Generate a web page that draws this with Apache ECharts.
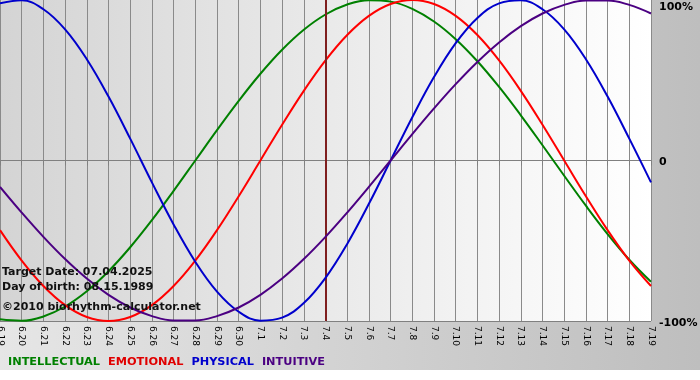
<!DOCTYPE html>
<html>
<head>
<meta charset="utf-8">
<script src="https://cdn.jsdelivr.net/npm/echarts@6/dist/echarts.min.js"></script>
<style>
html,body{margin:0;padding:0;background:#fff;}
#c{width:700px;height:380px;background:linear-gradient(to right,#e6e6e6,#bebebe) 0 0/700px 370px no-repeat,#fff;}
</style>
</head>
<body>
<div id="c"></div>
<script>
var days = ['6.19','6.20','6.21','6.22','6.23','6.24','6.25','6.26','6.27','6.28','6.29','6.30',
  '7.1','7.2','7.3','7.4','7.5','7.6','7.7','7.8','7.9','7.10','7.11','7.12','7.13','7.14','7.15','7.16','7.17','7.18','7.19'];
var intellectual = [-0.9898,-0.9989,-0.9718,-0.9096,-0.8146,-0.6901,-0.5406,-0.3717,-0.1893,0,0.1893,0.3717,0.5406,0.6901,0.8146,0.9096,0.9718,0.9989,0.9898,0.9450,0.8660,0.7557,0.6182,0.4582,0.2817,0.0951,-0.0951,-0.2817,-0.4582,-0.6182,-0.7557];
var emotional = [-0.4339,-0.6235,-0.7818,-0.9010,-0.9749,-1.0,-0.9749,-0.9010,-0.7818,-0.6235,-0.4339,-0.2225,0,0.2225,0.4339,0.6235,0.7818,0.9010,0.9749,1.0,0.9749,0.9010,0.7818,0.6235,0.4339,0.2225,0,-0.2225,-0.4339,-0.6235,-0.7818];
var physical = [0.9791,0.9977,0.9423,0.8170,0.6311,0.3984,0.1362,-0.1362,-0.3984,-0.6311,-0.8170,-0.9423,-0.9977,-0.9791,-0.8879,-0.7308,-0.5196,-0.2698,0,0.2698,0.5196,0.7308,0.8879,0.9791,0.9977,0.9423,0.8170,0.6311,0.3984,0.1362,-0.1362];
var intuitive = [-0.1646,-0.3247,-0.4759,-0.6142,-0.7357,-0.8372,-0.9158,-0.9694,-0.9966,-0.9966,-0.9694,-0.9158,-0.8372,-0.7357,-0.6142,-0.4759,-0.3247,-0.1646,0,0.1646,0.3247,0.4759,0.6142,0.7357,0.8372,0.9158,0.9694,0.9966,0.9966,0.9694,0.9158];
var targetDay = '7.4';
var infoLines = ['Target Date: 07.04.2025','Day of birth: 08.15.1989','\u00a92010 biorhythm-calculator.net'];
var seriesNames = ['INTELLECTUAL','EMOTIONAL','PHYSICAL','INTUITIVE'];
var seriesColors = ['#008000','#ff0000','#0000cc','#4b0082'];
var legendColors = ['#008000','#e00000','#0000cc','#4b0082'];
var seriesData = [intellectual, emotional, physical, intuitive];

var chart = echarts.init(document.getElementById('c'), null, {renderer:'canvas'});
var font = 'DejaVu Sans, Verdana, sans-serif';
var series = seriesNames.map(function(n,i){
  return {
    name:n, type:'line', data:seriesData[i], smooth:0.4, symbol:'none',
    lineStyle:{color:seriesColors[i], width:2}, itemStyle:{color:seriesColors[i]},
    z: 3 + i, animation:false
  };
});
series.push({type:'line', data:[], z:10,
  markLine:{silent:true, symbol:['none','none'], label:{show:false},
    lineStyle:{color:'#7f1f1f', width:2, type:'solid'}, data:[{xAxis:targetDay}], animation:false}});

chart.setOption({
  animation:false,
  grid:{left:0, right:49, top:0, bottom:59, show:true, borderWidth:0, outerBoundsMode:'none', containLabel:false,
    backgroundColor:new echarts.graphic.LinearGradient(0,0,1,0,[{offset:0,color:'#d4d4d4'},{offset:1,color:'#ffffff'}])},
  legend:{
    left:-2, top:352, itemWidth:0, itemHeight:0, itemGap:3, icon:'none', selectedMode:false,
    data: seriesNames.map(function(n,i){return {name:n, textStyle:{color:legendColors[i]}};}),
    textStyle:{fontFamily:font, fontWeight:'bold', fontSize:11.3}
  },
  xAxis:{
    type:'category', data:days, boundaryGap:false,
    axisLine:{show:true, lineStyle:{color:'#808080', width:1}},
    axisTick:{show:true, length:5, lineStyle:{color:'#808080'}, interval:0},
    axisLabel:{interval:0, rotate:-90, margin:5, color:'#000', fontSize:9, fontFamily:font, hideOverlap:false},
    splitLine:{show:true, interval:0, lineStyle:{color:'#8a8a8a', width:1}}
  },
  yAxis:{
    type:'value', position:'right', min:-1, max:1, interval:1,
    axisLine:{show:false}, axisTick:{show:false},
    axisLabel:{margin:8, color:'#000', fontFamily:font, fontWeight:'bold', fontSize:11,
      formatter:function(v){ if(v===1) return '{t|100%}'; if(v===-1) return '{b|-100%}'; return '{m|0}'; },
      rich:{t:{fontFamily:font,fontWeight:'bold',fontSize:11,padding:[14,0,0,0]},
            m:{fontFamily:font,fontWeight:'bold',fontSize:11,padding:[4,0,0,0]},
            b:{fontFamily:font,fontWeight:'bold',fontSize:11,padding:[4,0,0,0]}}},
    splitLine:{show:true, lineStyle:{color:['#808080','#808080','rgba(0,0,0,0)'], width:1}}
  },
  graphic:{elements: infoLines.map(function(t,i){
    return {type:'text', left:2, top:[267,282,302][i], z:100,
      style:{text:t, fill:'#111', font:'bold 11px '+font}};
  })},
  series:series
});
</script>
</body>
</html>
